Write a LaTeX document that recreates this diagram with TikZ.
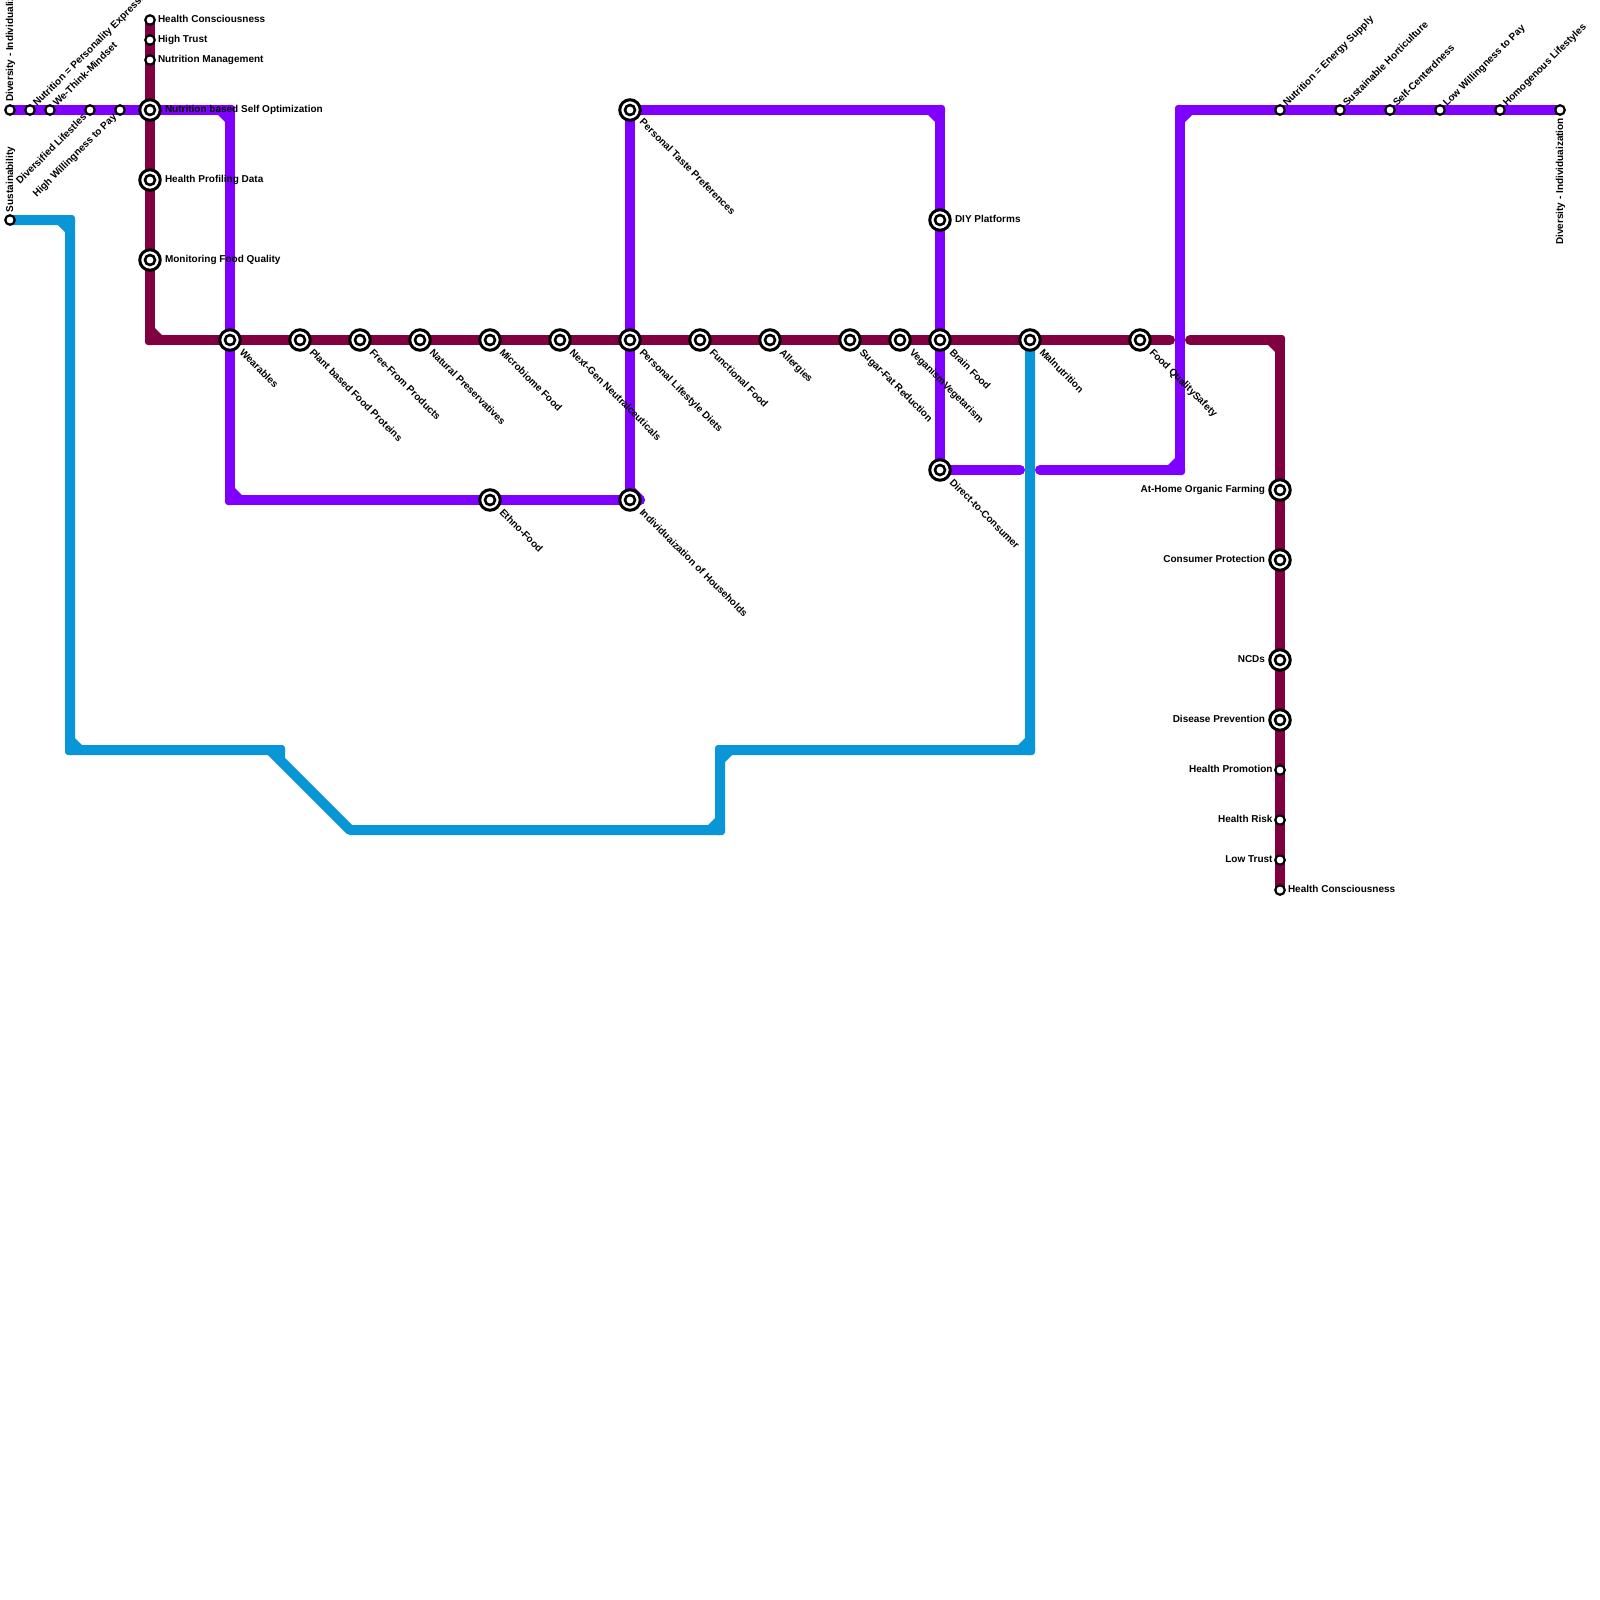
\documentclass[tikz,border=0pt]{standalone}
\usepackage{fontspec}
\setmainfont{Liberation Sans}
\usetikzlibrary{backgrounds}
\definecolor{vio}{HTML}{8000FF}
\definecolor{mar}{HTML}{800040}
\definecolor{blu}{HTML}{0896D7}
\newcommand\BigSt[3]{\node[bigstation] (#1) at (#2,#3) {};}
\newcommand\SmlSt[3]{\node[smlstation] (#1) at (#2,#3) {};}
% name, x, y, text
\newcommand\LabR[4]{\node[lab,anchor=base west] (#1) at (#2,#3) {#4};}
\newcommand\LabL[4]{\node[lab,anchor=base east] (#1) at (#2,#3) {#4};}
\newcommand\LabD[4]{\node[lab,anchor=base west,rotate=-45] (#1) at ({#2+2.5},{#3}) {#4};}
\newcommand\LabU[4]{\node[lab,anchor=base west,rotate=45] (#1) at ({#2+1},{#3}) {#4};}
\newcommand\LabUE[4]{\node[lab,anchor=base east,rotate=45] (#1) at ({#2+2},{#3}) {#4};}
\newcommand\LabV[4]{\node[lab,anchor=base west,rotate=90] (#1) at (#2,#3) {#4};}
\newcommand\LabVE[4]{\node[lab,anchor=base east,rotate=90] (#1) at (#2,#3) {#4};}
% corner: small outer rounding plus inner chamfer: colour, corner x, y, sx, sy
\newcommand\Chamf[5]{\fill[#1,rounded corners=3pt] ({#2-5},{#3-5}) rectangle ({#2+5},{#3+5});
  \fill[#1] ({#2+#4*4},{#3+#5*4}) -- ({#2+#4*13},{#3+#5*4}) -- ({#2+#4*4},{#3+#5*13}) -- cycle;}
\tikzset{
  bigstation/.style={circle,draw=black,fill=white,line width=3pt,minimum size=20.5pt,inner sep=0pt,
    path picture={\draw[line width=2.6pt] (path picture bounding box.center) circle (5pt);}},
  smlstation/.style={circle,draw=black,fill=white,line width=2.2pt,minimum size=9.5pt,inner sep=0pt},
  lab/.style={inner sep=0pt,outer sep=0pt,font=\fontsize{10pt}{12pt}\selectfont\bfseries,text=black},
  metro/.style={line width=10pt,line cap=round,line join=round},
}
\begin{document}
\begin{tikzpicture}[x=1pt,y=-1pt]
\useasboundingbox (0,0) rectangle (1600,1600);
% stations
\SmlSt{a1}{10}{110}\SmlSt{a2}{30}{110}\SmlSt{a3}{50}{110}\SmlSt{a4}{90}{110}\SmlSt{a5}{120}{110}
\SmlSt{b1}{10}{220}
\SmlSt{c1}{150}{20}\SmlSt{c2}{150}{40}\SmlSt{c3}{150}{60}
\BigSt{c4}{150}{110}\BigSt{c5}{150}{180}\BigSt{c6}{150}{260}
\BigSt{m1}{230}{340}\BigSt{m2}{300}{340}\BigSt{m3}{360}{340}\BigSt{m4}{420}{340}\BigSt{m5}{490}{340}
\BigSt{m6}{560}{340}\BigSt{m7}{630}{340}\BigSt{m8}{700}{340}\BigSt{m9}{770}{340}\BigSt{m10}{850}{340}
\BigSt{m11}{900}{340}\BigSt{m12}{940}{340}\BigSt{m13}{1030}{340}\BigSt{m14}{1140}{340}
\BigSt{v1}{490}{500}\BigSt{v2}{630}{500}\BigSt{v3}{630}{110}\BigSt{v4}{940}{220}\BigSt{v5}{940}{470}
\BigSt{r1}{1280}{490}\BigSt{r2}{1280}{560}\BigSt{r3}{1280}{660}\BigSt{r4}{1280}{720}
\SmlSt{r5}{1280}{770}\SmlSt{r6}{1280}{820}\SmlSt{r7}{1280}{860}\SmlSt{r8}{1280}{890}
\SmlSt{t1}{1280}{110}\SmlSt{t2}{1340}{110}\SmlSt{t3}{1390}{110}\SmlSt{t4}{1440}{110}\SmlSt{t5}{1500}{110}\SmlSt{t6}{1560}{110}
% free corners and line ends
\coordinate (pA) at (230,110);\coordinate (pB) at (230,500);\coordinate (pC) at (640,500);\coordinate (pD) at (630,490);
\coordinate (pE) at (940,110);\coordinate (pF) at (1020,470);\coordinate (pG) at (1040,470);\coordinate (pH) at (1180,470);\coordinate (pI) at (1180,110);
\coordinate (mA) at (150,340);\coordinate (mB) at (1170,340);\coordinate (mC) at (1190,340);\coordinate (mD) at (1280,340);
\coordinate (bA) at (70,220);\coordinate (bB) at (70,750);\coordinate (bC) at (280,750);\coordinate (bC2) at (270,750);\coordinate (bD) at (280,760);\coordinate (bE) at (350,830);
\coordinate (bF) at (720,830);\coordinate (bG) at (720,750);\coordinate (bH) at (1030,750);
\begin{scope}[on background layer]
% blue line
\draw[metro,blu] (b1.center) -- (bA) -- (bB) -- (bC) -- (bD) -- (bE) -- (bF) -- (bG) -- (bH) -- (m13.center);
\draw[metro,blu] (bC2) -- (bD);
\fill[blu,rounded corners=3pt] (275,745) rectangle (285,755);
\Chamf{blu}{70}{220}{-1}{1}\Chamf{blu}{70}{750}{1}{-1}\Chamf{blu}{720}{830}{-1}{-1}\Chamf{blu}{720}{750}{1}{1}\Chamf{blu}{1030}{750}{-1}{-1}
% violet lines
\draw[metro,vio] (a1.center) -- (a2.center) -- (a3.center) -- (a4.center) -- (a5.center) -- (c4.center) -- (pA) -- (m1.center) -- (pB) -- (v1.center) -- (v2.center) -- (pC);
\draw[metro,vio] (pC) -- (pD);
\draw[metro,vio] (pD) -- (v2.center) -- (m7.center) -- (v3.center) -- (pE) -- (v4.center) -- (m12.center) -- (v5.center) -- (pF);
\draw[metro,vio] (pG) -- (pH) -- (pI) -- (t1.center) -- (t2.center) -- (t3.center) -- (t4.center) -- (t5.center) -- (t6.center);
\Chamf{vio}{230}{110}{-1}{1}\Chamf{vio}{230}{500}{1}{-1}\Chamf{vio}{940}{110}{-1}{1}\Chamf{vio}{1180}{470}{-1}{-1}\Chamf{vio}{1180}{110}{1}{1}
% maroon line
\draw[metro,mar] (c1.center) -- (c2.center) -- (c3.center) -- (c4.center) -- (c5.center) -- (c6.center) -- (mA) -- (m1.center) -- (m2.center) -- (m3.center) -- (m4.center) -- (m5.center) -- (m6.center) -- (m7.center) -- (m8.center) -- (m9.center) -- (m10.center) -- (m11.center) -- (m12.center) -- (m13.center) -- (m14.center) -- (mB);
\draw[metro,mar] (mC) -- (mD) -- (r1.center) -- (r2.center) -- (r3.center) -- (r4.center) -- (r5.center) -- (r6.center) -- (r7.center) -- (r8.center);
\Chamf{mar}{150}{340}{1}{-1}\Chamf{mar}{1280}{340}{-1}{1}
\end{scope}
% labels
\LabV{la1}{13}{102}{Diversity - Individualization}
\LabV{lb1}{13}{212}{Sustainability}
\LabU{la2}{36}{107}{Nutrition = Personality Expression}
\LabU{la3}{56}{107}{We-Think-Mindset}
\LabUE{la4}{85}{118}{Diversified Lifestles}
\LabUE{la5}{115}{117.5}{High Willingness to Pay}
\LabR{lc1}{158}{22.6}{Health Consciousness}
\LabR{lc2}{158}{42.6}{High Trust}
\LabR{lc3}{158}{62.6}{Nutrition Management}
\LabR{lc4}{165}{112.6}{Nutrition based Self Optimization}
\LabR{lc5}{165}{182.6}{Health Profiling Data}
\LabR{lc6}{165}{262.6}{Monitoring Food Quality}
\LabD{lm1}{236.5}{353}{Wearables}
\LabD{lm2}{306.5}{353}{Plant based Food Proteins}
\LabD{lm3}{366.5}{353}{Free-From Products}
\LabD{lm4}{426.5}{353}{Natural Preservatives}
\LabD{lm5}{496.5}{353}{Microbiome Food}
\LabD{lm6}{566.5}{353}{Next-Gen Neutralceuticals}
\LabD{lm7}{636.5}{353}{Personal Lifestyle Diets}
\LabD{lm8}{706.5}{353}{Functional Food}
\LabD{lm9}{776.5}{353}{Allergies}
\LabD{lm10}{856.5}{353}{Sugar-Fat Reduction}
\LabD{lm11}{906.5}{353}{VeganismVegetarism}
\LabD{lm12}{946.5}{353}{Brain Food}
\LabD{lm13}{1036.5}{353}{Malnutrition}
\LabD{lm14}{1146.5}{353}{Food QualitySafety}
\LabD{lv1}{496.5}{513}{Ethno-Food}
\LabD{lv2}{636.5}{513}{Individuaization of Households}
\LabD{lv3}{636.5}{123}{Personal Taste Preferences}
\LabR{lv4}{955}{222.6}{DIY Platforms}
\LabD{lv5}{946.5}{483}{Direct-to-Consumer}
\LabL{lr1}{1265}{492.6}{At-Home Organic Farming}
\LabL{lr2}{1265}{562.6}{Consumer Protection}
\LabL{lr3}{1265}{662.6}{NCDs}
\LabL{lr4}{1265}{722.6}{Disease Prevention}
\LabL{lr5}{1272.5}{772.6}{Health Promotion}
\LabL{lr6}{1272.5}{822.6}{Health Risk}
\LabL{lr7}{1272.5}{862.6}{Low Trust}
\LabR{lr8}{1288}{892.6}{Health Consciousness}
\LabU{lt1}{1286}{107}{Nutrition = Energy Supply}
\LabU{lt2}{1346}{107}{Sustainable Horticulture}
\LabU{lt3}{1396}{107}{Self-Centerdness}
\LabU{lt4}{1446}{107}{Low Willingness to Pay}
\LabU{lt5}{1506}{107}{Homogenous Lifestyles}
\LabVE{lt6}{1563}{118}{Diversity - Individuaization}
\end{tikzpicture}
\end{document}
